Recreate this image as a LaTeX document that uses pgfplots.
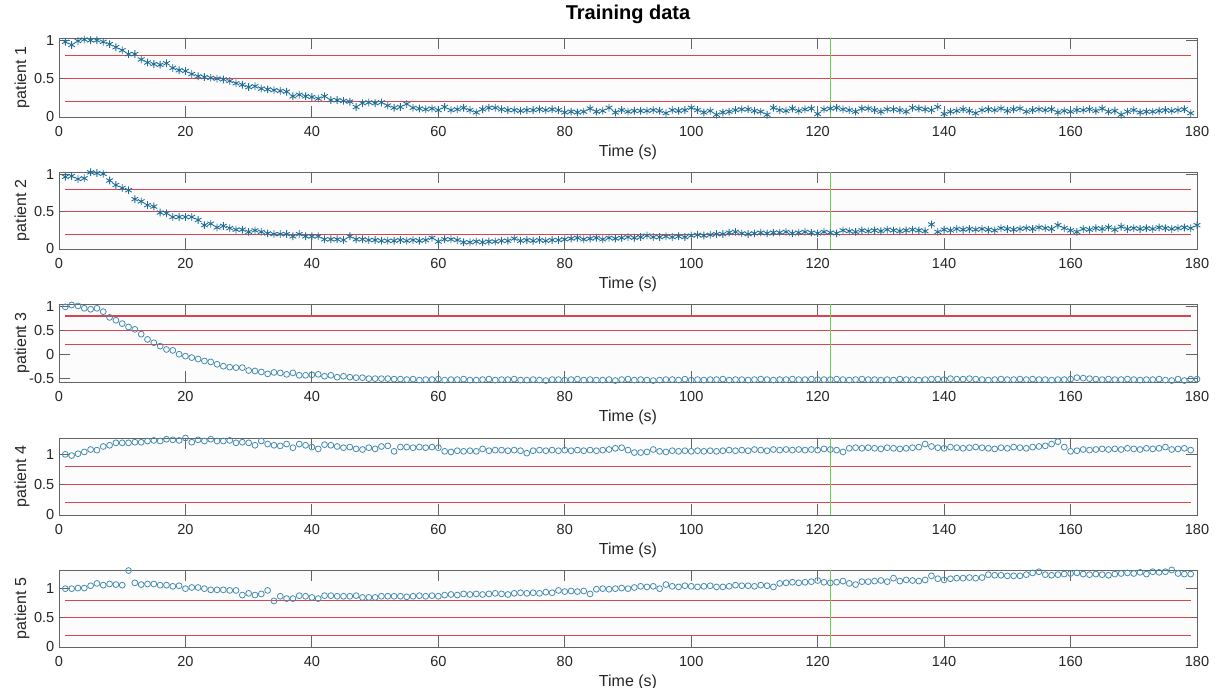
\documentclass[border=0pt]{standalone}
\usepackage{pgfplots}
\pgfplotsset{compat=1.18}
\usepackage{fontspec}
\setmainfont{Liberation Sans}
\definecolor{axgray}{RGB}{100,100,100}
\definecolor{astcol}{RGB}{30,110,150}
\definecolor{circcol}{RGB}{70,140,175}
\definecolor{redl}{RGB}{215,70,80}
\definecolor{greenl}{RGB}{100,210,80}
\pgfplotsset{
  pat/.style={
    scale only axis, width=853.5pt,
    xmin=0, xmax=180, xtick={0,20,...,180},
    tick align=inside, tick pos=both,
    major tick length=8.6pt,
    axis line style={draw=axgray, line width=0.6pt},
    every tick/.style={axgray, line width=0.6pt},
    ticklabel style={font=\fontsize{10.9}{12}\selectfont, text=black!85},
    /pgf/number format/assume math mode=true,
    xticklabel style={anchor=base, yshift=-15pt},
    xlabel={Time (s)},
    xlabel style={at={(axis description cs:0.5,0)}, anchor=base, yshift=-29.8pt, font=\fontsize{12}{14}\selectfont, text=black!85},
    ylabel style={at={(axis description cs:-0.0325,0.5)}, anchor=center, rotate=0, font=\fontsize{12}{14}\selectfont, text=black!85},
    axis background/.style={fill=black!1},
    clip=false,
  },
  ast/.style={only marks, mark=asterisk, mark size=2.9pt, draw=astcol, mark options={line width=0.65pt}},
  circ/.style={only marks, mark=o, mark size=2.2pt, draw=circcol, mark options={line width=0.6pt}},
  rl/.style={draw=redl, line width=0.85pt, no marks},
  gl/.style={draw=greenl, line width=1pt, no marks},
}
\begin{document}
\begin{tikzpicture}
\path[use as bounding box] (0,0) rectangle (913.5pt,516pt);
% ---------------- patient 1
\begin{axis}[pat, at={(44.25pt,428.25pt)}, anchor=south west, height=59.25pt,
  ymin=0, ymax=1.03, ytick={0,0.5,1}, ylabel={patient 1},
  title={Training data},
  title style={at={(axis description cs:0.5,1)}, anchor=base, yshift=7.5pt, font=\bfseries\fontsize{15}{17}\selectfont}]
\addplot[ast] coordinates {
(1,0.98)(2,0.94)(3,0.99)(4,1.01)(5,1.00)(6,1.00)(7,0.98)(8,0.95)(9,0.91)(10,0.87)
(11,0.82)(12,0.82)(13,0.75)(14,0.71)(15,0.69)(16,0.68)(17,0.70)(18,0.64)(19,0.61)(20,0.60)
(21,0.56)(22,0.53)(23,0.52)(24,0.51)(25,0.50)(26,0.49)(27,0.47)(28,0.44)(29,0.42)(30,0.39)
(31,0.40)(32,0.37)(33,0.36)(34,0.35)(35,0.34)(36,0.33)(37,0.27)(38,0.29)(39,0.27)(40,0.26)
(41,0.24)(42,0.27)(43,0.22)(44,0.22)(45,0.21)(46,0.20)(47,0.13)(48,0.18)(49,0.19)(50,0.18)
(51,0.19)(52,0.15)(53,0.12)(54,0.13)(55,0.17)(56,0.12)(57,0.11)(58,0.10)(59,0.11)(60,0.09)
(61,0.13)(62,0.09)(63,0.10)(64,0.12)(65,0.09)(66,0.06)(67,0.10)(68,0.12)(69,0.12)(70,0.10)
(71,0.09)(72,0.09)(73,0.08)(74,0.09)(75,0.09)(76,0.10)(77,0.09)(78,0.10)(79,0.09)(80,0.06)
(81,0.07)(82,0.06)(83,0.07)(84,0.11)(85,0.07)(86,0.08)(87,0.12)(88,0.06)(89,0.09)(90,0.07)
(91,0.08)(92,0.08)(93,0.08)(94,0.09)(95,0.08)(96,0.05)(97,0.09)(98,0.08)(99,0.09)(100,0.12)
(101,0.09)(102,0.06)(103,0.08)(104,0.03)(105,0.06)(106,0.07)(107,0.09)(108,0.10)(109,0.10)(110,0.08)
(111,0.07)(112,0.03)(113,0.12)(114,0.09)(115,0.08)(116,0.11)(117,0.08)(118,0.10)(119,0.11)(120,0.04)
(121,0.10)(122,0.11)(123,0.12)(124,0.10)(125,0.09)(126,0.07)(127,0.11)(128,0.11)(129,0.09)(130,0.07)
(131,0.10)(132,0.10)(133,0.09)(134,0.07)(135,0.12)(136,0.11)(137,0.10)(138,0.09)(139,0.13)(140,0.04)
(141,0.07)(142,0.08)(143,0.10)(144,0.08)(145,0.05)(146,0.09)(147,0.10)(148,0.09)(149,0.11)(150,0.08)
(151,0.10)(152,0.11)(153,0.07)(154,0.09)(155,0.10)(156,0.09)(157,0.10)(158,0.06)(159,0.08)(160,0.07)
(161,0.09)(162,0.09)(163,0.10)(164,0.08)(165,0.11)(166,0.07)(167,0.08)(168,0.03)(169,0.07)(170,0.09)
(171,0.06)(172,0.07)(173,0.07)(174,0.08)(175,0.09)(176,0.08)(177,0.09)(178,0.10)(179,0.05)};
\addplot[rl] coordinates {(1,0.2)(179,0.2)};
\addplot[rl] coordinates {(1,0.5)(179,0.5)};
\addplot[rl] coordinates {(1,0.8)(179,0.8)};
\addplot[gl] coordinates {(122,0)(122,1.03)};
\end{axis}
% ---------------- patient 2
\begin{axis}[pat, at={(44.25pt,329.25pt)}, anchor=south west, height=57.75pt,
  ymin=0, ymax=1.035, ytick={0,0.5,1}, ylabel={patient 2}]
\addplot[ast] coordinates {
(1,0.97)(2,0.98)(3,0.94)(4,0.95)(5,1.03)(6,1.02)(7,1.01)(8,0.92)(9,0.86)(10,0.82)
(11,0.79)(12,0.67)(13,0.64)(14,0.59)(15,0.57)(16,0.49)(17,0.48)(18,0.43)(19,0.43)(20,0.43)
(21,0.43)(22,0.39)(23,0.32)(24,0.34)(25,0.29)(26,0.31)(27,0.28)(28,0.26)(29,0.26)(30,0.23)
(31,0.25)(32,0.23)(33,0.21)(34,0.20)(35,0.20)(36,0.20)(37,0.17)(38,0.20)(39,0.17)(40,0.17)
(41,0.17)(42,0.13)(43,0.13)(44,0.13)(45,0.12)(46,0.17)(47,0.13)(48,0.13)(49,0.12)(50,0.12)
(51,0.11)(52,0.11)(53,0.11)(54,0.12)(55,0.11)(56,0.12)(57,0.11)(58,0.12)(59,0.15)(60,0.10)
(61,0.13)(62,0.13)(63,0.12)(64,0.09)(65,0.09)(66,0.10)(67,0.09)(68,0.10)(69,0.10)(70,0.11)
(71,0.11)(72,0.14)(73,0.11)(74,0.12)(75,0.11)(76,0.12)(77,0.11)(78,0.12)(79,0.12)(80,0.13)
(81,0.14)(82,0.15)(83,0.13)(84,0.14)(85,0.15)(86,0.13)(87,0.15)(88,0.14)(89,0.15)(90,0.16)
(91,0.15)(92,0.16)(93,0.18)(94,0.16)(95,0.16)(96,0.17)(97,0.16)(98,0.17)(99,0.16)(100,0.18)
(101,0.19)(102,0.18)(103,0.19)(104,0.20)(105,0.20)(106,0.22)(107,0.23)(108,0.21)(109,0.20)(110,0.21)
(111,0.22)(112,0.21)(113,0.22)(114,0.22)(115,0.23)(116,0.21)(117,0.22)(118,0.23)(119,0.22)(120,0.21)
(121,0.23)(122,0.22)(123,0.21)(124,0.25)(125,0.24)(126,0.23)(127,0.25)(128,0.24)(129,0.25)(130,0.24)
(131,0.26)(132,0.25)(133,0.24)(134,0.25)(135,0.26)(136,0.25)(137,0.24)(138,0.33)(139,0.23)(140,0.26)
(141,0.25)(142,0.27)(143,0.26)(144,0.27)(145,0.26)(146,0.27)(147,0.26)(148,0.25)(149,0.28)(150,0.27)
(151,0.26)(152,0.27)(153,0.28)(154,0.27)(155,0.29)(156,0.28)(157,0.27)(158,0.32)(159,0.28)(160,0.25)
(161,0.23)(162,0.27)(163,0.26)(164,0.28)(165,0.27)(166,0.29)(167,0.26)(168,0.30)(169,0.27)(170,0.28)
(171,0.27)(172,0.28)(173,0.27)(174,0.29)(175,0.28)(176,0.27)(177,0.28)(178,0.29)(179,0.28)(180,0.32)};
\addplot[rl] coordinates {(1,0.2)(179,0.2)};
\addplot[rl] coordinates {(1,0.5)(179,0.5)};
\addplot[rl] coordinates {(1,0.8)(179,0.8)};
\addplot[gl] coordinates {(122,0)(122,1.035)};
\end{axis}
% ---------------- patient 3
\begin{axis}[pat, at={(44.25pt,229.5pt)}, anchor=south west, height=58.5pt,
  ymin=-0.58, ymax=1.05, ytick={-0.5,0,0.5,1}, ylabel={patient 3}]
\addplot[circ] coordinates {
(1,0.99)(2,1.03)(3,1.01)(4,0.96)(5,0.94)(6,0.96)(7,0.89)(8,0.77)(9,0.71)(10,0.64)
(11,0.57)(12,0.52)(13,0.42)(14,0.31)(15,0.24)(16,0.17)(17,0.10)(18,0.08)(19,0.00)(20,-0.04)
(21,-0.07)(22,-0.10)(23,-0.14)(24,-0.16)(25,-0.21)(26,-0.25)(27,-0.27)(28,-0.28)(29,-0.28)(30,-0.34)
(31,-0.35)(32,-0.37)(33,-0.41)(34,-0.38)(35,-0.39)(36,-0.42)(37,-0.39)(38,-0.44)(39,-0.44)(40,-0.43)
(41,-0.42)(42,-0.46)(43,-0.44)(44,-0.48)(45,-0.46)(46,-0.48)(47,-0.49)(48,-0.49)(49,-0.51)(50,-0.51)
(51,-0.51)(52,-0.51)(53,-0.52)(54,-0.52)(55,-0.53)(56,-0.52)(57,-0.54)(58,-0.53)(59,-0.53)(60,-0.52)
(61,-0.54)(62,-0.53)(63,-0.53)(64,-0.52)(65,-0.54)(66,-0.54)(67,-0.53)(68,-0.52)(69,-0.54)(70,-0.53)
(71,-0.53)(72,-0.52)(73,-0.54)(74,-0.54)(75,-0.53)(76,-0.54)(77,-0.55)(78,-0.53)(79,-0.53)(80,-0.54)
(81,-0.53)(82,-0.52)(83,-0.54)(84,-0.53)(85,-0.54)(86,-0.54)(87,-0.53)(88,-0.55)(89,-0.53)(90,-0.52)
(91,-0.54)(92,-0.53)(93,-0.54)(94,-0.55)(95,-0.54)(96,-0.53)(97,-0.53)(98,-0.54)(99,-0.52)(100,-0.54)
(101,-0.53)(102,-0.54)(103,-0.53)(104,-0.53)(105,-0.52)(106,-0.54)(107,-0.53)(108,-0.53)(109,-0.54)(110,-0.53)
(111,-0.52)(112,-0.53)(113,-0.54)(114,-0.53)(115,-0.53)(116,-0.52)(117,-0.53)(118,-0.53)(119,-0.52)(120,-0.53)
(121,-0.53)(122,-0.53)(123,-0.52)(124,-0.53)(125,-0.54)(126,-0.53)(127,-0.52)(128,-0.53)(129,-0.53)(130,-0.54)
(131,-0.53)(132,-0.54)(133,-0.52)(134,-0.53)(135,-0.53)(136,-0.54)(137,-0.53)(138,-0.52)(139,-0.52)(140,-0.53)
(141,-0.51)(142,-0.52)(143,-0.52)(144,-0.51)(145,-0.52)(146,-0.53)(147,-0.54)(148,-0.53)(149,-0.52)(150,-0.53)
(151,-0.53)(152,-0.52)(153,-0.53)(154,-0.52)(155,-0.53)(156,-0.53)(157,-0.54)(158,-0.53)(159,-0.53)(160,-0.52)
(161,-0.49)(162,-0.50)(163,-0.51)(164,-0.52)(165,-0.53)(166,-0.52)(167,-0.53)(168,-0.53)(169,-0.52)(170,-0.53)
(171,-0.54)(172,-0.53)(173,-0.53)(174,-0.52)(175,-0.54)(176,-0.55)(177,-0.52)(178,-0.55)(179,-0.52)(180,-0.52)};
\addplot[rl] coordinates {(1,0.2)(179,0.2)};
\addplot[rl] coordinates {(1,0.5)(179,0.5)};
\addplot[rl] coordinates {(1,0.8)(179,0.8)};
\addplot[gl] coordinates {(122,-0.58)(122,1.05)};
\end{axis}
% ---------------- patient 4
\begin{axis}[pat, at={(44.25pt,129.75pt)}, anchor=south west, height=57.75pt,
  ymin=0, ymax=1.27, ytick={0,0.5,1}, ylabel={patient 4}]
\addplot[circ] coordinates {
(1,1.00)(2,0.98)(3,1.01)(4,1.04)(5,1.08)(6,1.07)(7,1.13)(8,1.15)(9,1.19)(10,1.19)
(11,1.19)(12,1.20)(13,1.20)(14,1.22)(15,1.23)(16,1.22)(17,1.25)(18,1.24)(19,1.23)(20,1.27)
(21,1.20)(22,1.24)(23,1.22)(24,1.25)(25,1.22)(26,1.22)(27,1.23)(28,1.19)(29,1.20)(30,1.19)
(31,1.15)(32,1.22)(33,1.17)(34,1.15)(35,1.14)(36,1.17)(37,1.11)(38,1.17)(39,1.15)(40,1.12)
(41,1.09)(42,1.16)(43,1.15)(44,1.13)(45,1.11)(46,1.12)(47,1.09)(48,1.08)(49,1.11)(50,1.09)
(51,1.13)(52,1.14)(53,1.05)(54,1.12)(55,1.12)(56,1.11)(57,1.12)(58,1.11)(59,1.12)(60,1.11)
(61,1.05)(62,1.04)(63,1.06)(64,1.05)(65,1.06)(66,1.05)(67,1.09)(68,1.06)(69,1.07)(70,1.07)
(71,1.06)(72,1.07)(73,1.06)(74,1.02)(75,1.06)(76,1.07)(77,1.06)(78,1.07)(79,1.06)(80,1.07)
(81,1.06)(82,1.07)(83,1.06)(84,1.07)(85,1.06)(86,1.07)(87,1.08)(88,1.10)(89,1.11)(90,1.07)
(91,1.03)(92,1.03)(93,1.04)(94,1.08)(95,1.05)(96,1.04)(97,1.06)(98,1.05)(99,1.06)(100,1.05)
(101,1.06)(102,1.05)(103,1.06)(104,1.05)(105,1.06)(106,1.07)(107,1.06)(108,1.07)(109,1.06)(110,1.08)
(111,1.07)(112,1.06)(113,1.08)(114,1.07)(115,1.08)(116,1.07)(117,1.08)(118,1.07)(119,1.08)(120,1.07)
(121,1.09)(122,1.08)(123,1.07)(124,1.04)(125,1.10)(126,1.11)(127,1.10)(128,1.11)(129,1.10)(130,1.09)
(131,1.11)(132,1.10)(133,1.09)(134,1.10)(135,1.11)(136,1.12)(137,1.17)(138,1.13)(139,1.11)(140,1.10)
(141,1.12)(142,1.11)(143,1.10)(144,1.11)(145,1.12)(146,1.11)(147,1.10)(148,1.09)(149,1.11)(150,1.10)
(151,1.12)(152,1.11)(153,1.10)(154,1.12)(155,1.13)(156,1.14)(157,1.17)(158,1.21)(159,1.12)(160,1.05)
(161,1.06)(162,1.08)(163,1.07)(164,1.08)(165,1.09)(166,1.08)(167,1.09)(168,1.08)(169,1.10)(170,1.09)
(171,1.08)(172,1.10)(173,1.09)(174,1.10)(175,1.12)(176,1.08)(177,1.09)(178,1.10)(179,1.07)};
\addplot[rl] coordinates {(1,0.2)(179,0.2)};
\addplot[rl] coordinates {(1,0.5)(179,0.5)};
\addplot[rl] coordinates {(1,0.8)(179,0.8)};
\addplot[gl] coordinates {(122,0)(122,1.27)};
\end{axis}
% ---------------- patient 5
\begin{axis}[pat, at={(44.25pt,30.75pt)}, anchor=south west, height=57.75pt,
  ymin=0, ymax=1.32, ytick={0,0.5,1}, ylabel={patient 5}]
\addplot[circ] coordinates {
(1,1.00)(2,1.00)(3,1.01)(4,1.01)(5,1.05)(6,1.09)(7,1.06)(8,1.08)(9,1.07)(10,1.06)
(11,1.31)(12,1.10)(13,1.07)(14,1.08)(15,1.08)(16,1.06)(17,1.06)(18,1.04)(19,1.05)(20,1.00)
(21,1.02)(22,1.02)(23,1.00)(24,0.98)(25,0.98)(26,0.98)(27,0.97)(28,0.97)(29,0.89)(30,0.92)
(31,0.89)(32,0.91)(33,0.97)(34,0.79)(35,0.87)(36,0.83)(37,0.83)(38,0.88)(39,0.87)(40,0.85)
(41,0.83)(42,0.88)(43,0.88)(44,0.87)(45,0.87)(46,0.87)(47,0.88)(48,0.85)(49,0.85)(50,0.85)
(51,0.87)(52,0.87)(53,0.87)(54,0.87)(55,0.86)(56,0.87)(57,0.88)(58,0.87)(59,0.88)(60,0.87)
(61,0.89)(62,0.90)(63,0.89)(64,0.91)(65,0.90)(66,0.91)(67,0.90)(68,0.91)(69,0.92)(70,0.91)
(71,0.90)(72,0.92)(73,0.93)(74,0.92)(75,0.93)(76,0.92)(77,0.94)(78,0.93)(79,0.97)(80,0.95)
(81,0.96)(82,0.95)(83,0.96)(84,0.91)(85,0.99)(86,1.00)(87,0.99)(88,1.00)(89,1.01)(90,1.00)
(91,1.02)(92,1.04)(93,1.03)(94,1.04)(95,1.00)(96,1.07)(97,1.04)(98,1.03)(99,1.05)(100,1.04)
(101,1.03)(102,1.04)(103,1.05)(104,1.03)(105,1.03)(106,1.04)(107,1.06)(108,1.05)(109,1.05)(110,1.04)
(111,1.06)(112,1.05)(113,1.03)(114,1.09)(115,1.10)(116,1.11)(117,1.10)(118,1.11)(119,1.12)(120,1.14)
(121,1.11)(122,1.10)(123,1.11)(124,1.13)(125,1.09)(126,1.07)(127,1.12)(128,1.12)(129,1.13)(130,1.14)
(131,1.12)(132,1.18)(133,1.13)(134,1.15)(135,1.14)(136,1.13)(137,1.15)(138,1.22)(139,1.17)(140,1.15)
(141,1.17)(142,1.18)(143,1.18)(144,1.19)(145,1.18)(146,1.19)(147,1.24)(148,1.23)(149,1.23)(150,1.22)
(151,1.22)(152,1.22)(153,1.24)(154,1.27)(155,1.29)(156,1.24)(157,1.23)(158,1.24)(159,1.25)(160,1.26)
(161,1.27)(162,1.25)(163,1.24)(164,1.25)(165,1.24)(166,1.23)(167,1.25)(168,1.26)(169,1.27)(170,1.26)
(171,1.28)(172,1.25)(173,1.29)(174,1.28)(175,1.29)(176,1.32)(177,1.26)(178,1.25)(179,1.25)};
\addplot[rl] coordinates {(1,0.2)(179,0.2)};
\addplot[rl] coordinates {(1,0.5)(179,0.5)};
\addplot[rl] coordinates {(1,0.8)(179,0.8)};
\addplot[gl] coordinates {(122,0)(122,1.32)};
\end{axis}
\end{tikzpicture}
\end{document}
